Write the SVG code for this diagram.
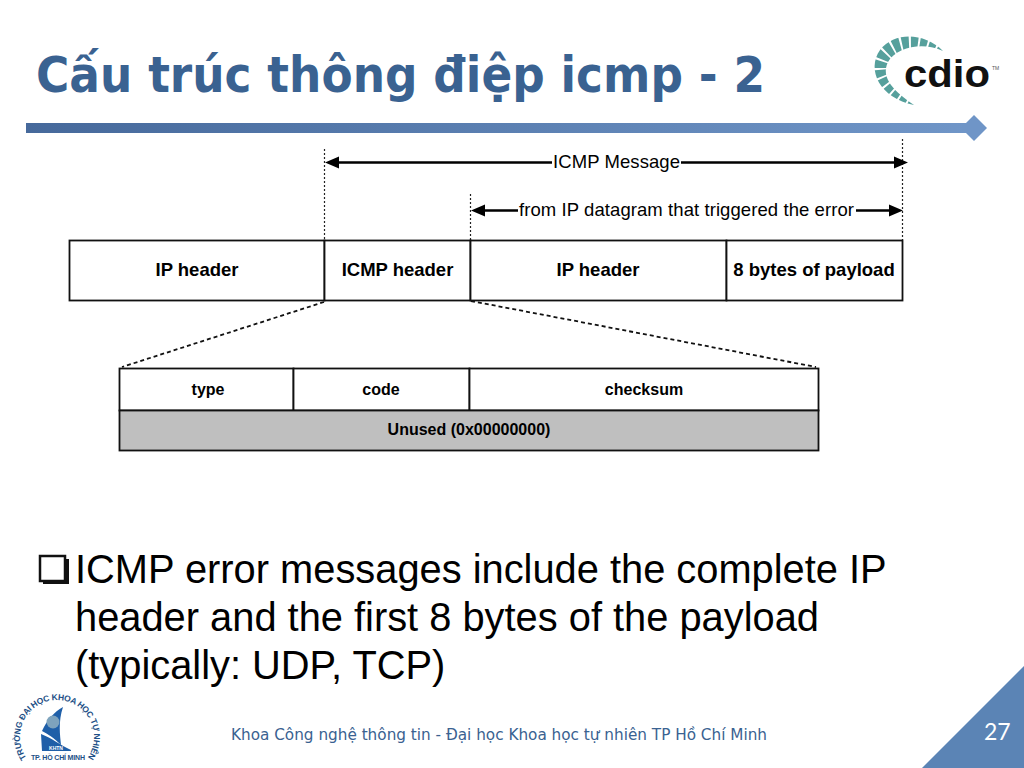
<svg xmlns="http://www.w3.org/2000/svg" width="1024" height="768" viewBox="0 0 1024 768">
<style>
.a{font-family:"Liberation Sans",Arial,sans-serif;fill:#000}
.b{font-weight:bold;font-size:18.500px;text-anchor:middle}
.s{font-weight:bold;font-size:16px;text-anchor:middle}
.m{font-size:18.500px}
.box{fill:#fff;stroke:#111;stroke-width:1.800}
.dot{fill:none;stroke:#222;stroke-width:1.200;stroke-dasharray:2 2}
.dash{fill:none;stroke:#111;stroke-width:1.800;stroke-dasharray:4 3}
.arr{fill:none;stroke:#000;stroke-width:2.400}
.body{font-size:39.850px}
.hd{fill:#000}
</style>
<defs>
<linearGradient id="bar" x1="0" x2="1" y1="0" y2="0"><stop offset="0" stop-color="#46699b"/><stop offset="1" stop-color="#7096c8"/></linearGradient>
<path id="ring" d="M26.500 758A37 37 0 1 1 87.500 758"/>
</defs>
<rect width="1024" height="768" fill="#fff"/>
<g id="title"><text x="36" y="92" font-family="'DejaVu Sans',sans-serif" font-weight="bold" font-size="50" fill="#3a6291" textLength="729" lengthAdjust="spacingAndGlyphs">Cấu trúc thông điệp icmp - 2</text></g>
<g id="title-bar"><rect x="26" y="123" width="950" height="10" fill="url(#bar)"/><path d="M974 115L987 128L974 141L961 128Z" fill="#6f95c7"/></g>
<g id="cdio-logo">
<path d="M943 51C925 33 895 31 880 50C866 70 880 98 914 105C895 92 880 78 888 62C897 46 925 42 943 51Z" fill="#56a09c"/>
<path d="M945 53C920 38 896 40 884 54C872 72 884 92 916 106" fill="none" stroke="#fff" stroke-width="26" stroke-dasharray="2 7"/>
<text x="904" y="87" font-family="'Liberation Sans',sans-serif" font-weight="bold" font-size="38" fill="#111" textLength="86" lengthAdjust="spacingAndGlyphs">cdio</text>
<text x="992" y="70" font-family="'Liberation Sans',sans-serif" font-size="5" fill="#555">TM</text>
</g>
<g id="connectors">
<path class="dot" d="M324.500 149V240M470.500 194V240M902.500 139V240"/>
<path class="arr" d="M338 162.500H552M681 162.500H895M484 210.500H518M856 210.500H890"/>
<path class="hd" d="M325 162.500L339 156.500V168.500ZM908 162.500L894 156.500V168.500ZM471 210.500L485 204.500V216.500ZM903 210.500L889 204.500V216.500Z"/>
<path class="dash" d="M324 302L122 367M471 301L816 367"/>
</g>
<g id="icmp-message-label"><text class="a m" x="553" y="168" textLength="127">ICMP Message</text></g>
<g id="from-ip-label"><text class="a m" x="519" y="216" textLength="335">from IP datagram that triggered the error</text></g>
<g id="ip-header-1"><rect class="box" x="69.500" y="240.500" width="255" height="60"/><text class="a b" x="197" y="276">IP header</text></g>
<g id="icmp-header"><rect class="box" x="324.500" y="240.500" width="146" height="60"/><text class="a b" x="397.500" y="276">ICMP header</text></g>
<g id="ip-header-2"><rect class="box" x="470.500" y="240.500" width="256" height="60"/><text class="a b" x="598" y="276">IP header</text></g>
<g id="payload"><rect class="box" x="726.500" y="240.500" width="176" height="60"/><text class="a b" x="814" y="276">8 bytes of payload</text></g>
<g id="type"><rect class="box" x="119.500" y="368.500" width="174" height="42"/><text class="a s" x="208" y="394.500">type</text></g>
<g id="code"><rect class="box" x="293.500" y="368.500" width="176" height="42"/><text class="a s" x="381" y="394.500">code</text></g>
<g id="checksum"><rect class="box" x="469.500" y="368.500" width="349" height="42"/><text class="a s" x="644" y="394.500">checksum</text></g>
<g id="unused"><rect x="119.500" y="410.500" width="699" height="40" fill="#bfbfbf" stroke="#111" stroke-width="1.800"/><text class="a s" x="469" y="434.500">Unused (0x00000000)</text></g>
<g id="bullet-text">
<path d="M40 556H65V581H40Z" fill="none" stroke="#111" stroke-width="2.500"/>
<path d="M43 582.500H67.500V559" fill="none" stroke="#111" stroke-width="3"/>
<text class="a body" x="75" y="583">ICMP error messages include the complete IP</text>
<text class="a body" x="75" y="631">header and the first 8 bytes of the payload</text>
<text class="a body" x="75" y="679">(typically: UDP, TCP)</text>
</g>
<g id="university-logo">
<path d="M63 707C58 722 60 735 61 745C54 738 48 734 42 731C47 720 54 712 63 707Z" fill="#1f5fa8"/>
<circle cx="53" cy="722" r="6.500" fill="#7ea3bd"/>
<path d="M41 734C52 738 60 745 71 750V751H42Z" fill="#1f5fa8"/>
<text x="56" y="750" text-anchor="middle" font-family="'Liberation Sans',sans-serif" font-weight="bold" font-size="5" fill="#fff">KHTN</text>
<text font-family="'Liberation Sans',sans-serif" font-weight="bold" font-size="8.500" fill="#1d4f86"><textPath href="#ring" textLength="160">TRƯỜNG ĐẠI HỌC KHOA HỌC TỰ NHIÊN</textPath></text>
<text x="31" y="760" font-family="'Liberation Sans',sans-serif" font-weight="bold" font-size="7" fill="#1d4f86" textLength="54">TP. HỒ CHÍ MINH</text>
</g>
<g id="footer"><text x="231" y="740" font-family="'DejaVu Sans',sans-serif" font-size="15.500" fill="#3a6291" textLength="536" lengthAdjust="spacingAndGlyphs">Khoa Công nghệ thông tin - Đại học Khoa học tự nhiên TP Hồ Chí Minh</text></g>
<g id="page-corner"><path d="M1024 666V768H922Z" fill="#5b84b5"/><text x="984" y="740" font-family="Lato,sans-serif" font-size="23" fill="#fff">27</text></g>
</svg>
